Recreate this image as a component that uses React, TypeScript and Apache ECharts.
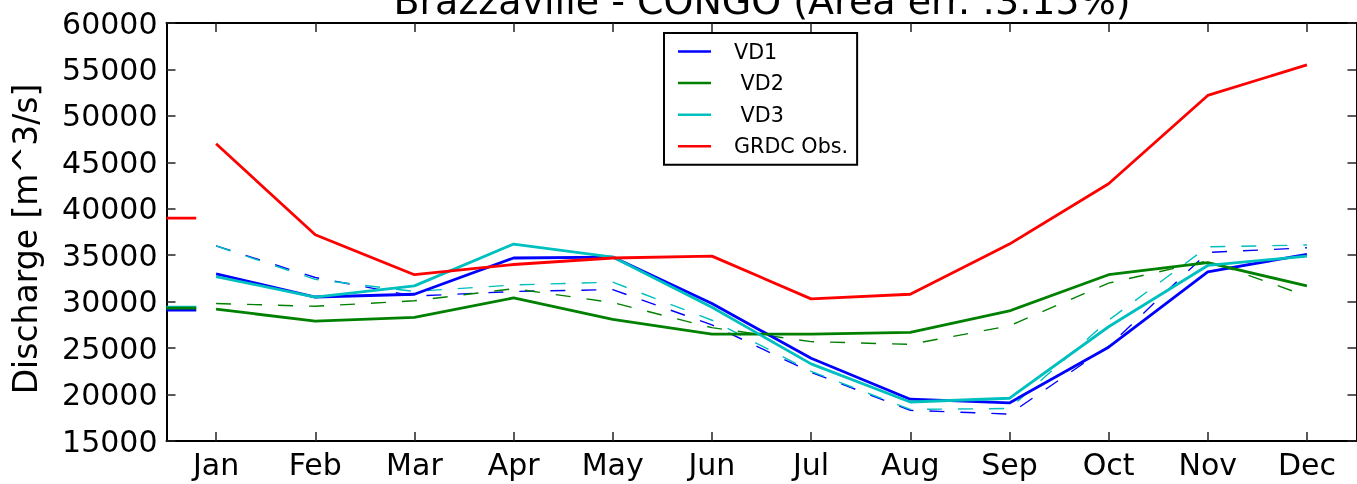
import React, { useEffect, useRef } from "react";
import * as echarts from "echarts";

const MONTHS = ["Jan", "Feb", "Mar", "Apr", "May", "Jun", "Jul", "Aug", "Sep", "Oct", "Nov", "Dec"];
const Y_TICKS = [15000, 20000, 25000, 30000, 35000, 40000, 45000, 50000, 55000, 60000];

// Solid lines (legend entries)
const VD1 = [33000, 30500, 30800, 34700, 34800, 29800, 23900, 19500, 19100, 25100, 33200, 35100];
const VD2 = [29200, 27900, 28300, 30400, 28100, 26500, 26500, 26700, 29000, 32900, 34200, 31700];
const VD3 = [32700, 30500, 31700, 36200, 34800, 29400, 23300, 19200, 19600, 27300, 33900, 34900];
const GRDC = [47000, 37200, 32900, 34000, 34700, 34900, 30300, 30800, 36200, 42700, 52200, 55500];

// Dashed companion lines (no legend entry)
const VD1_DASHED = [36000, 32600, 30600, 31100, 31300, 27500, 22400, 18300, 17900, 25200, 35300, 35800];
const VD2_DASHED = [29800, 29500, 30100, 31400, 29900, 27200, 25700, 25400, 27400, 32000, 34400, 30600];
const VD3_DASHED = [36000, 32400, 31100, 31800, 32100, 28000, 22500, 18400, 18500, 28000, 35900, 36100];

// Annual means (short marks at the left edge)
const MEAN_VD1 = 29100;
const MEAN_VD2 = 29300;
const MEAN_VD3 = 29400;
const MEAN_GRDC = 39000;
const MEAN_X = [0.5, 0.8];

const TITLE = "Brazzaville - CONGO (Area err. :3.15%)";
const Y_NAME = "Discharge [m^3/s]";

const BLUE = "#0000ff";
const GREEN = "#008000";
const CYAN = "#00bfbf";
const RED = "#ff0000";
const FONT = "DejaVu Sans";

const toXY = (arr: number[]) => arr.map((v, i) => [i + 1, v]);
const meanSeg = (v: number) => MEAN_X.map((x) => [x, v]);

export default function App() {
  const ref = useRef<HTMLDivElement>(null);
  useEffect(() => {
    if (!ref.current) return;
    const chart = echarts.init(ref.current, null, { renderer: "svg" });
    const monthVals = MONTHS.map((_, i) => i + 1);
    const solid = (name: string, data: number[], color: string, z: number) => ({
      name,
      type: "line",
      data: toXY(data),
      symbol: "none",
      z,
      lineStyle: { color, width: 2.8 },
      itemStyle: { color },
    });
    const dashed = (name: string, data: number[], color: string) => ({
      name,
      type: "line",
      data: toXY(data),
      symbol: "none",
      z: 2,
      lineStyle: { color, width: 1.4, type: [15, 16] },
      itemStyle: { color },
    });
    const mean = (name: string, v: number, color: string) => ({
      name,
      type: "line",
      data: meanSeg(v),
      symbol: "none",
      z: 3,
      lineStyle: { color, width: 2.8 },
      itemStyle: { color },
    });
    chart.setOption({
      animation: false,
      grid: { left: 166.5, right: 0.5, top: 23, bottom: 43 },
      legend: {
        data: ["VD1", "VD2", "VD3", "GRDC Obs."],
        orient: "vertical",
        left: 664,
        top: 33,
        padding: [8, 9, 8, 14],
        icon: "rect",
        itemWidth: 33,
        itemHeight: 2.5,
        itemGap: 10.6,
        borderColor: "#000",
        borderWidth: 2,
        backgroundColor: "#fff",
        formatter: (name: string) => (name === "VD2" || name === "VD3" ? "\u00a0" + name : name),
        textStyle: { fontFamily: FONT, fontSize: 20.7, color: "#000", lineHeight: 20.7, padding: [0, 0, 0, 18] },
      },
      xAxis: [
        {
          type: "value",
          min: 0.5,
          max: 12.5,
          position: "bottom",
          splitLine: { show: false },
          axisLine: { show: true, onZero: false, lineStyle: { color: "#000", width: 2 } },
          axisTick: { show: true, inside: true, length: 9, customValues: monthVals, lineStyle: { color: "#222", width: 1.5 } },
          axisLabel: {
            show: true,
            customValues: monthVals,
            margin: 8,
            fontFamily: FONT,
            fontSize: 30,
            color: "#000",
            formatter: (v: number) => MONTHS[Math.round(v) - 1] ?? "",
          },
        },
        {
          type: "value",
          min: 0.5,
          max: 12.5,
          position: "top",
          splitLine: { show: false },
          axisLine: { show: true, onZero: false, lineStyle: { color: "#000", width: 2 } },
          axisTick: { show: true, inside: true, length: 9, customValues: monthVals, lineStyle: { color: "#222", width: 1.5 } },
          axisLabel: { show: false },
        },
      ],
      yAxis: [
        {
          type: "value",
          min: Y_TICKS[0],
          max: Y_TICKS[Y_TICKS.length - 1],
          interval: 5000,
          position: "left",
          splitLine: { show: false },
          axisLine: { show: true, onZero: false, lineStyle: { color: "#000", width: 2 } },
          axisTick: { show: true, inside: true, length: 9, lineStyle: { color: "#222", width: 1.5 } },
          axisLabel: {
            margin: 9,
            fontFamily: FONT,
            fontSize: 30,
            color: "#000",
            formatter: (v: number) => String(Math.round(v)),
          },
        },
        {
          type: "value",
          min: Y_TICKS[0],
          max: Y_TICKS[Y_TICKS.length - 1],
          interval: 5000,
          position: "right",
          splitLine: { show: false },
          axisLine: { show: true, onZero: false, lineStyle: { color: "#000", width: 2 } },
          axisTick: { show: true, inside: true, length: 9, lineStyle: { color: "#222", width: 1.5 } },
          axisLabel: { show: false },
        },
      ],
      graphic: [
        {
          type: "text",
          x: 762,
          y: 20,
          style: {
            text: TITLE,
            fontFamily: FONT,
            fontSize: 38,
            fill: "#000",
            textAlign: "center",
            textVerticalAlign: "bottom",
          },
        },
        {
          type: "text",
          x: 25,
          y: 239,
          rotation: Math.PI / 2,
          style: {
            text: Y_NAME,
            fontFamily: FONT,
            fontSize: 33,
            fill: "#000",
            textAlign: "center",
            textVerticalAlign: "middle",
          },
        },
      ],
      series: [
        dashed("VD1 dashed", VD1_DASHED, BLUE),
        dashed("VD3 dashed", VD3_DASHED, CYAN),
        dashed("VD2 dashed", VD2_DASHED, GREEN),
        mean("VD1 mean", MEAN_VD1, BLUE),
        mean("VD3 mean", MEAN_VD3, CYAN),
        mean("VD2 mean", MEAN_VD2, GREEN),
        mean("GRDC mean", MEAN_GRDC, RED),
        solid("VD1", VD1, BLUE, 4),
        solid("VD2", VD2, GREEN, 5),
        solid("VD3", VD3, CYAN, 6),
        solid("GRDC Obs.", GRDC, RED, 7),
      ],
    });
    return () => chart.dispose();
  }, []);
  return <div ref={ref} style={{ position: "fixed", left: 0, top: 0, width: 1357, height: 484 }} />;
}
